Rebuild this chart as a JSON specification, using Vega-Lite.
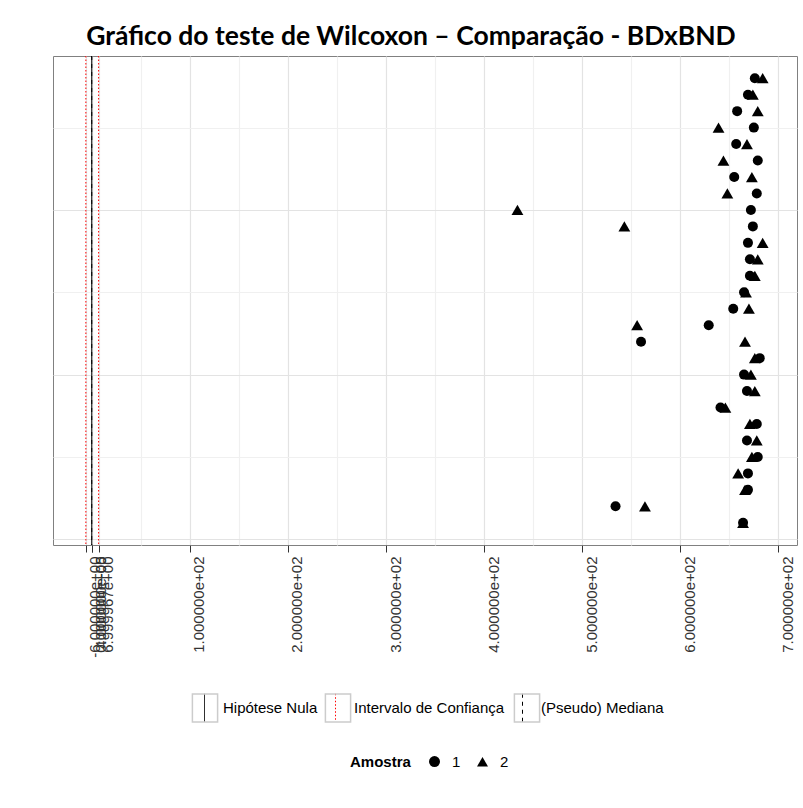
{
  "$schema": "https://vega.github.io/schema/vega-lite/v6.json",
  "width": 744,
  "height": 489,
  "autosize": {"type": "none"},
  "padding": {"left": 53, "top": 56, "right": 6, "bottom": 263},
  "background": "white",
  "title": {
    "text": "Gráfico do teste de Wilcoxon – Comparação - BDxBND",
    "font": "Lato",
    "fontWeight": "bold",
    "fontSize": 26.5,
    "color": "black",
    "anchor": "middle",
    "frame": "group",
    "baseline": "alphabetic",
    "offset": -16,
    "dx": -14
  },
  "config": {
    "view": {"stroke": "#808080", "strokeWidth": 1},
    "font": "Liberation Sans",
    "legend": {
      "labelFont": "Liberation Sans",
      "labelFontSize": 15,
      "labelColor": "black",
      "titleFont": "Liberation Sans",
      "titleFontSize": 15,
      "titleColor": "black",
      "padding": 0,
      "offset": 0,
      "labelLimit": 0
    }
  },
  "layer": [
    {
      "data": {
        "values": [
          {"linha": "Hipótese Nula", "valor": 0},
          {"linha": "Intervalo de Confiança", "valor": -6},
          {"linha": "Intervalo de Confiança", "valor": 6.999967},
          {"linha": "(Pseudo) Mediana", "valor": 0.00004}
        ]
      },
      "mark": {"type": "rule", "strokeWidth": 1},
      "encoding": {
        "x": {
          "field": "valor",
          "type": "quantitative",
          "title": null,
          "scale": {"domain": [-39.5, 719], "nice": false, "zero": false},
          "axis": {
            "values": [-6, 0, 0.00004, 6.999967, 50, 100, 150, 200, 250, 300, 350, 400, 450, 500, 550, 600, 650, 700],
            "labelExpr": "datum.value % 100 == 50 ? '' : replace(replace(replace(format(datum.value, '.6e'), 'e+', 'e+0'), 'e-', 'e-0'), '−', '-')",
            "labelAngle": -90,
            "labelAlign": "right",
            "labelBaseline": "top",
            "labelOffset": 2,
            "labelPadding": 4,
            "labelFont": "Liberation Sans",
            "labelFontSize": 15,
            "labelColor": "#333333",
            "labelOverlap": false,
            "labelFlush": false,
            "domain": false,
            "tickColor": "#333333",
            "tickSize": 7,
            "tickWidth": 1,
            "tickOpacity": {"condition": {"test": "datum.value % 100 == 50", "value": 0}, "value": 1},
            "grid": true,
            "gridColor": {"condition": {"test": "datum.value % 100 == 50", "value": "#f0f0f0"}, "value": "#e3e3e3"},
            "gridWidth": 1.2
          }
        },
        "color": {
          "field": "linha",
          "type": "nominal",
          "scale": {
            "domain": ["Hipótese Nula", "Intervalo de Confiança", "(Pseudo) Mediana"],
            "range": ["#000000", "#ff0000", "#000000"]
          },
          "legend": {
            "orient": "none", "legendX": 137, "legendY": 637, "direction": "horizontal",
            "title": null, "symbolType": "M0,-1V1", "symbolSize": 784, "symbolStrokeWidth": 1,
            "labelOffset": 4, "columnPadding": 3
          }
        },
        "strokeDash": {
          "field": "linha",
          "type": "nominal",
          "scale": {
            "domain": ["Hipótese Nula", "Intervalo de Confiança", "(Pseudo) Mediana"],
            "range": [[1, 0], [1.5, 2], [4, 4]]
          },
          "legend": {
            "orient": "none", "legendX": 137, "legendY": 637, "direction": "horizontal",
            "title": null, "symbolType": "M0,-1V1", "symbolSize": 784, "symbolStrokeWidth": 1,
            "labelOffset": 4, "columnPadding": 3
          }
        },
        "opacity": {
          "field": "linha",
          "type": "ordinal",
          "sort": ["Hipótese Nula", "Intervalo de Confiança", "(Pseudo) Mediana"],
          "scale": {"type": "ordinal", "range": [1, 1, 1]},
          "legend": {
            "orient": "none", "legendX": 137, "legendY": 637, "direction": "horizontal",
            "title": null, "symbolType": "M-0.9,-1H0.9V1H-0.9Z", "symbolSize": 784,
            "symbolStrokeColor": "#cccccc", "symbolFillColor": "transparent",
            "labelOffset": 4, "columnPadding": 3, "labelOpacity": 0
          }
        }
      }
    },
    {
      "data": {
        "values": [
          {"obs": 28, "amostra": "1", "valor": 676}, {"obs": 28, "amostra": "2", "valor": 684},
          {"obs": 27, "amostra": "1", "valor": 669}, {"obs": 27, "amostra": "2", "valor": 674},
          {"obs": 26, "amostra": "1", "valor": 658}, {"obs": 26, "amostra": "2", "valor": 679},
          {"obs": 25, "amostra": "1", "valor": 675}, {"obs": 25, "amostra": "2", "valor": 639},
          {"obs": 24, "amostra": "1", "valor": 657}, {"obs": 24, "amostra": "2", "valor": 668},
          {"obs": 23, "amostra": "1", "valor": 679}, {"obs": 23, "amostra": "2", "valor": 644},
          {"obs": 22, "amostra": "1", "valor": 655}, {"obs": 22, "amostra": "2", "valor": 673},
          {"obs": 21, "amostra": "1", "valor": 678}, {"obs": 21, "amostra": "2", "valor": 648},
          {"obs": 20, "amostra": "1", "valor": 672}, {"obs": 20, "amostra": "2", "valor": 434},
          {"obs": 19, "amostra": "1", "valor": 674}, {"obs": 19, "amostra": "2", "valor": 543},
          {"obs": 18, "amostra": "1", "valor": 669}, {"obs": 18, "amostra": "2", "valor": 684},
          {"obs": 17, "amostra": "1", "valor": 671}, {"obs": 17, "amostra": "2", "valor": 679},
          {"obs": 16, "amostra": "1", "valor": 671}, {"obs": 16, "amostra": "2", "valor": 676},
          {"obs": 15, "amostra": "1", "valor": 665}, {"obs": 15, "amostra": "2", "valor": 667},
          {"obs": 14, "amostra": "1", "valor": 654}, {"obs": 14, "amostra": "2", "valor": 670},
          {"obs": 13, "amostra": "1", "valor": 629}, {"obs": 13, "amostra": "2", "valor": 556},
          {"obs": 12, "amostra": "1", "valor": 560}, {"obs": 12, "amostra": "2", "valor": 666},
          {"obs": 11, "amostra": "1", "valor": 681}, {"obs": 11, "amostra": "2", "valor": 676},
          {"obs": 10, "amostra": "1", "valor": 665}, {"obs": 10, "amostra": "2", "valor": 672},
          {"obs": 9, "amostra": "1", "valor": 668}, {"obs": 9, "amostra": "2", "valor": 676},
          {"obs": 8, "amostra": "1", "valor": 641}, {"obs": 8, "amostra": "2", "valor": 646},
          {"obs": 7, "amostra": "1", "valor": 678}, {"obs": 7, "amostra": "2", "valor": 671},
          {"obs": 6, "amostra": "1", "valor": 668}, {"obs": 6, "amostra": "2", "valor": 678},
          {"obs": 5, "amostra": "1", "valor": 679}, {"obs": 5, "amostra": "2", "valor": 673},
          {"obs": 4, "amostra": "1", "valor": 669}, {"obs": 4, "amostra": "2", "valor": 659},
          {"obs": 3, "amostra": "1", "valor": 669}, {"obs": 3, "amostra": "2", "valor": 666},
          {"obs": 2, "amostra": "1", "valor": 534}, {"obs": 2, "amostra": "2", "valor": 564},
          {"obs": 1, "amostra": "1", "valor": 664}, {"obs": 1, "amostra": "2", "valor": 664}
        ]
      },
      "mark": {"type": "point", "filled": true, "color": "#000000", "opacity": 1},
      "encoding": {
        "x": {"field": "valor", "type": "quantitative", "title": null},
        "y": {
          "field": "obs",
          "type": "quantitative",
          "title": null,
          "scale": {"domain": [-0.35, 29.35], "nice": false, "zero": false},
          "axis": {
            "values": [0, 5, 10, 15, 20, 25],
            "labels": false,
            "ticks": false,
            "domain": false,
            "grid": true,
            "gridColor": {"condition": {"test": "datum.value % 10 == 0", "value": "#e3e3e3"}, "value": "#f0f0f0"},
            "gridWidth": 1.2
          }
        },
        "size": {"condition": {"test": "datum.amostra == '2'", "value": 140}, "value": 100},
        "shape": {
          "field": "amostra",
          "type": "nominal",
          "scale": {"domain": ["1", "2"], "range": ["circle", "triangle-up"]},
          "legend": {
            "orient": "none", "legendX": 297, "legendY": 698, "direction": "horizontal",
            "title": "Amostra", "titleOrient": "left", "titleFontWeight": "bold",
            "titlePadding": 16, "titleAnchor": "middle", "titleBaseline": "middle",
            "symbolSize": 120, "symbolFillColor": "#000000", "symbolStrokeColor": "#000000",
            "labelOffset": 10, "columnPadding": 13
          }
        }
      }
    }
  ]
}
